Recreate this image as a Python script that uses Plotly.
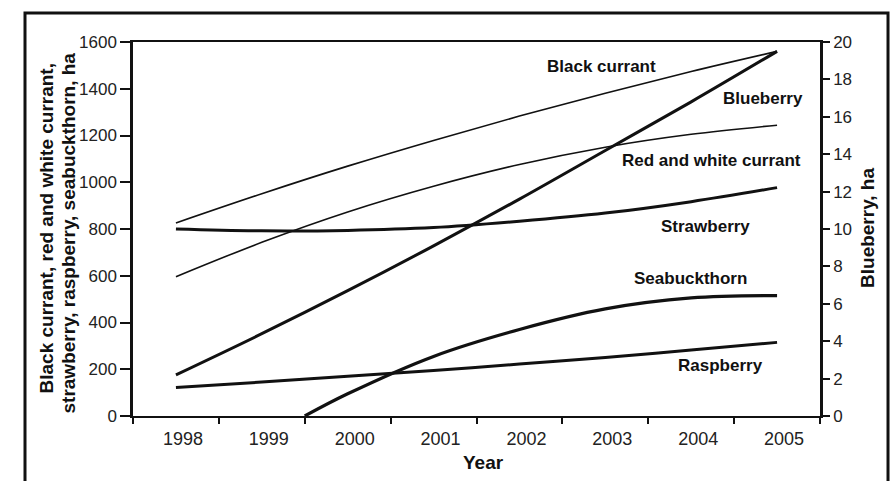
import plotly.graph_objects as go

# ---- data ----
years = [1998, 1999, 2000, 2001, 2002, 2003, 2004, 2005]
black_currant = [826, 951, 1069, 1179, 1283, 1381, 1474, 1560]
red_white_currant = [596, 743, 873, 983, 1076, 1150, 1205, 1244]
strawberry = [800, 792, 794, 806, 833, 868, 917, 977]
raspberry = [122, 145, 170, 195, 222, 250, 282, 315]
seabuckthorn_years = [1999.5, 2000, 2001, 2002, 2003, 2004, 2005]
seabuckthorn = [0, 95, 255, 370, 458, 505, 515]
blueberry = [2.2, 4.4, 6.7, 9.1, 11.6, 14.2, 16.8, 19.5]   # right axis

year_labels = [str(y) for y in years]
boundaries = [1997.5, 1998.5, 1999.5, 2000.5, 2001.5, 2002.5, 2003.5, 2004.5, 2005.5]
left_ticks = [0, 200, 400, 600, 800, 1000, 1200, 1400, 1600]
right_ticks = [0, 2, 4, 6, 8, 10, 12, 14, 16, 18, 20]

series_labels = [
    ("Black currant", 2002.96, 1497),
    ("Blueberry", 2004.84, 1359),
    ("Red and white currant", 2004.24, 1095),
    ("Strawberry", 2004.17, 810),
    ("Seabuckthorn", 2003.99, 590),
    ("Raspberry", 2004.34, 215),
]

FONT = "Liberation Sans, Arial, Helvetica, sans-serif"
INK = "#111111"

fig = go.Figure()

def add_line(x, y, width, name, axis="y"):
    fig.add_trace(go.Scatter(
        x=x, y=y, mode="lines", name=name, yaxis=axis,
        line=dict(color=INK, width=width, shape="spline", smoothing=1.0),
        showlegend=False, hoverinfo="x+y+name",
    ))

add_line(years, black_currant, 1.6, "Black currant")
add_line(years, red_white_currant, 1.6, "Red and white currant")
add_line(years, strawberry, 3.0, "Strawberry")
add_line(years, raspberry, 3.0, "Raspberry")
add_line(seabuckthorn_years, seabuckthorn, 3.2, "Seabuckthorn")
add_line(years, blueberry, 3.0, "Blueberry", axis="y2")

annotations = []
for text, ax, ay in series_labels:
    annotations.append(dict(
        x=ax, y=ay, xref="x", yref="y", text=text, showarrow=False,
        font=dict(family=FONT, size=17, color=INK, weight="bold"),
        xanchor="center", yanchor="middle",
    ))

# axis titles
annotations += [
    dict(x=-0.1252, y=0.5013, xref="paper", yref="paper",
         text="Black currant, red and white currant,", textangle=-90,
         showarrow=False, xanchor="center", yanchor="middle",
         font=dict(family=FONT, size=19, color=INK, weight="bold")),
    dict(x=-0.0946, y=0.488, xref="paper", yref="paper",
         text="strawberry, raspberry, seabuckthorn, ha", textangle=-90,
         showarrow=False, xanchor="center", yanchor="middle",
         font=dict(family=FONT, size=19, color=INK, weight="bold")),
    dict(x=1.0691, y=0.504, xref="paper", yref="paper",
         text="Blueberry, ha", textangle=-90,
         showarrow=False, xanchor="center", yanchor="middle",
         font=dict(family=FONT, size=19, color=INK, weight="bold")),
    dict(x=0.5095, y=-0.123, xref="paper", yref="paper",
         text="Year", showarrow=False, xanchor="center", yanchor="middle",
         font=dict(family=FONT, size=19, color=INK, weight="bold")),
]

fig.update_layout(
    width=893, height=481,
    margin=dict(l=133, r=73, t=42, b=65, pad=0),
    paper_bgcolor="white", plot_bgcolor="white",
    font=dict(family=FONT, color=INK),
    annotations=annotations,
    xaxis=dict(
        range=[1997.5, 2005.5], showgrid=False, zeroline=False,
        showline=True, linecolor=INK, linewidth=2, mirror=True,
        tickmode="array", tickvals=years, ticktext=year_labels,
        ticks="", ticklabelshift=7, ticklabelstandoff=5,
        tickfont=dict(family=FONT, size=18, color="#222222"),
        minor=dict(tickmode="array", tickvals=boundaries, ticks="outside",
                   ticklen=6, tickwidth=2, tickcolor=INK, showgrid=False),
    ),
    xaxis2=dict(
        range=[1997.5, 2005.5], overlaying="x", anchor="y", side="bottom",
        showgrid=False, zeroline=False, showline=False,
        tickmode="array", tickvals=boundaries, ticks="inside",
        ticklen=5, tickwidth=2, tickcolor=INK, showticklabels=False,
    ),
    yaxis=dict(
        range=[0, 1600], showgrid=False, zeroline=False,
        showline=True, linecolor=INK, linewidth=2.5,
        tickmode="array", tickvals=left_ticks,
        ticks="outside", ticklen=10, tickwidth=2, tickcolor=INK,
        tickfont=dict(family=FONT, size=17, color="#222222"),
    ),
    yaxis2=dict(
        range=[0, 20], overlaying="y", side="right", anchor="x",
        showgrid=False, zeroline=False,
        showline=True, linecolor=INK, linewidth=2.5,
        tickmode="array", tickvals=right_ticks,
        ticks="outside", ticklen=7, tickwidth=2, tickcolor=INK,
        tickfont=dict(family=FONT, size=17, color="#222222"),
    ),
    shapes=[dict(
        type="rect", xref="paper", yref="paper",
        x0=-0.1572, x1=1.099, y0=-0.22, y1=1.0775,
        line=dict(color=INK, width=3), fillcolor="rgba(0,0,0,0)", layer="above",
    )],
)

fig.write_html(
    "out.html",
    config={"displayModeBar": False},
    post_script="document.body.style.margin='0';document.body.style.overflow='hidden';",
)
